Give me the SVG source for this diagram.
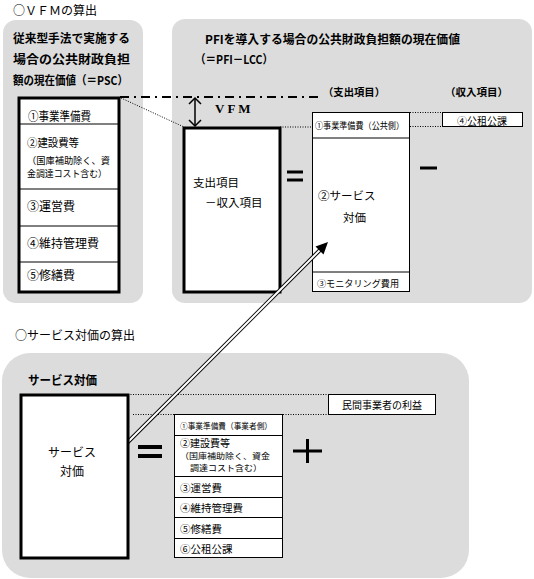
<svg xmlns="http://www.w3.org/2000/svg" width="534" height="579" viewBox="0 0 534 579">
<style>
text{font-family:"Noto Sans CJK JP","Noto Sans CJK SC",sans-serif;fill:#000;dominant-baseline:central}
.b{font-weight:bold}
.panel{fill:#dcdcdc}
.thick{fill:#fff;stroke:#000;stroke-width:3}
.thin{fill:#fff;stroke:#000;stroke-width:1}
.div{stroke:#000;stroke-width:1}
.dot{stroke:#000;stroke-width:1;stroke-dasharray:1 1.5;fill:none}
.bar{stroke:#000;fill:none}
</style>
<rect width="534" height="579" fill="#fff"/>
<g id="panels">
<rect class="panel" x="3" y="20" width="140" height="283" rx="13"/>
<rect class="panel" x="172" y="19" width="360" height="284" rx="13"/>
<rect class="panel" x="2" y="353" width="467" height="225" rx="28"/>
</g>
<text x="13" y="9" font-size="12">○ＶＦＭの算出</text>
<text x="15" y="334" font-size="12">○サービス対価の算出</text>
<g id="psc-title">
<text class="b" x="13" y="37" font-size="12" textLength="117" lengthAdjust="spacingAndGlyphs">従来型手法で実施する</text>
<text class="b" x="13" y="58" font-size="12" textLength="117" lengthAdjust="spacingAndGlyphs">場合の公共財政負担</text>
<text class="b" x="13" y="79" font-size="12" textLength="115" lengthAdjust="spacingAndGlyphs">額の現在価値（＝PSC）</text>
</g>
<g id="psc-box">
<rect class="thick" x="19" y="98" width="100" height="194"/>
<line class="div" x1="19" y1="124" x2="119" y2="124"/>
<line class="div" x1="19" y1="189" x2="119" y2="189"/>
<line class="div" x1="19" y1="226" x2="119" y2="226"/>
<line class="div" x1="19" y1="262" x2="119" y2="262"/>
<text x="28" y="115" font-size="12" textLength="63" lengthAdjust="spacingAndGlyphs">①事業準備費</text>
<text x="27" y="142" font-size="11" textLength="52" lengthAdjust="spacingAndGlyphs">②建設費等</text>
<text x="27" y="159.5" font-size="9.5" textLength="83" lengthAdjust="spacingAndGlyphs">（国庫補助除く、資</text>
<text x="27" y="173" font-size="9.5" textLength="80" lengthAdjust="spacingAndGlyphs">金調達コスト含む）</text>
<text x="27" y="205" font-size="12">③運営費</text>
<text x="27" y="242" font-size="12">④維持管理費</text>
<text x="27" y="274" font-size="12">⑤修繕費</text>
</g>
<g id="pfi-title">
<text class="b" x="205" y="38" font-size="12" textLength="255" lengthAdjust="spacingAndGlyphs">PFIを導入する場合の公共財政負担額の現在価値</text>
<text class="b" x="195" y="58" font-size="12" textLength="78" lengthAdjust="spacingAndGlyphs">（＝PFI－LCC）</text>
<text class="b" x="323" y="91" font-size="10.5" textLength="62" lengthAdjust="spacingAndGlyphs">（支出項目）</text>
<text class="b" x="445" y="91" font-size="10.5" textLength="63" lengthAdjust="spacingAndGlyphs">（収入項目）</text>
</g>
<g id="vfm-label">
<text x="215" y="108" font-size="13" class="b" style="font-family:'Liberation Serif',serif" letter-spacing="3">VFM</text>
</g>
<g id="pfi-lcc-box">
<rect class="thick" x="184" y="128" width="96" height="164"/>
<text x="193" y="182" font-size="11.5">支出項目</text>
<text x="205" y="202" font-size="11.5">－収入項目</text>
</g>
<g id="equals1"><line class="bar" stroke-width="3" x1="287" y1="172" x2="303" y2="172"/><line class="bar" stroke-width="3" x1="287" y1="180" x2="303" y2="180"/></g>
<g id="spend-col">
<rect class="thin" x="312.5" y="112.5" width="97" height="179"/>
<line class="div" x1="312" y1="138" x2="410" y2="138"/>
<line class="div" x1="312" y1="272" x2="410" y2="272"/>
<text x="315" y="125" font-size="9" textLength="89" lengthAdjust="spacingAndGlyphs">①事業準備費（公共側）</text>
<text x="318" y="195" font-size="11.5">②サービス</text>
<text x="343" y="217" font-size="11.5">対価</text>
<text x="317" y="283" font-size="9" textLength="82" lengthAdjust="spacingAndGlyphs">③モニタリング費用</text>
</g>
<g id="minus"><line class="bar" stroke-width="3" x1="420" y1="168" x2="437" y2="168"/></g>
<g id="revenue-box">
<rect class="thin" x="442.5" y="112.5" width="80" height="14"/>
<text x="457" y="120" font-size="10" textLength="50" lengthAdjust="spacingAndGlyphs">④公租公課</text>
</g>
<g id="service-title"><text class="b" x="28" y="379" font-size="12" textLength="69" lengthAdjust="spacingAndGlyphs">サービス対価</text></g>
<g id="connectors">
<line x1="120" y1="97" x2="322" y2="97" stroke="#000" stroke-width="2" stroke-dasharray="9 5 2 5"/>
<line class="dot" x1="121" y1="98" x2="184" y2="127"/>
<line class="dot" x1="280" y1="127" x2="312" y2="127"/>
<line class="dot" x1="410" y1="112.5" x2="442" y2="112.5"/>
<line class="dot" x1="410" y1="126.5" x2="442" y2="126.5"/>
<line class="dot" x1="128" y1="394.5" x2="328" y2="394.5"/>
<line class="dot" x1="133" y1="414.5" x2="328" y2="414.5"/>
<g fill="none" stroke="#000" stroke-width="1.5">
<line x1="195" y1="98" x2="195" y2="126"/>
<polyline points="189,104 195,98 201,104"/>
<polyline points="189,120 195,126 201,120"/>
</g>
<line x1="122" y1="448" x2="321" y2="249" stroke="#000" stroke-width="4"/>
<line x1="121" y1="449" x2="322" y2="248" stroke="#fff" stroke-width="2"/>
<polygon points="328,242 323.5,254.5 315.5,246.5" fill="#000"/>
<polygon points="115,455 127.5,450.5 119.5,442.5" fill="#000"/>
</g>
<g id="service-box">
<rect class="thick" x="21" y="395" width="107" height="163"/>
<text x="72" y="451" font-size="12" text-anchor="middle">サービス</text>
<text x="72" y="470" font-size="12" text-anchor="middle">対価</text>
</g>
<g id="equals2"><line class="bar" stroke-width="4" x1="138" y1="447" x2="162" y2="447"/><line class="bar" stroke-width="4" x1="138" y1="456" x2="162" y2="456"/></g>
<g id="profit-box">
<rect class="thin" x="328.5" y="394.5" width="107" height="20"/>
<text x="342" y="404" font-size="10" textLength="80" lengthAdjust="spacingAndGlyphs">民間事業者の利益</text>
</g>
<g id="cost-list">
<rect class="thin" x="174.5" y="414.5" width="108" height="143"/>
<line class="div" x1="174" y1="435.5" x2="283" y2="435.5"/>
<line class="div" x1="174" y1="476.5" x2="283" y2="476.5"/>
<line class="div" x1="174" y1="497.5" x2="283" y2="497.5"/>
<line class="div" x1="174" y1="517.5" x2="283" y2="517.5"/>
<line class="div" x1="174" y1="538.5" x2="283" y2="538.5"/>
<text x="180" y="425" font-size="8.5" textLength="92" lengthAdjust="spacingAndGlyphs">①事業準備費（事業者側）</text>
<text x="180" y="442" font-size="10">②建設費等</text>
<text x="180" y="454.5" font-size="8.5" textLength="90" lengthAdjust="spacingAndGlyphs">（国庫補助除く、資金</text>
<text x="190" y="467" font-size="8.5" textLength="72" lengthAdjust="spacingAndGlyphs">調達コスト含む）</text>
<text x="180" y="487" font-size="10.5">③運営費</text>
<text x="180" y="507" font-size="10.5">④維持管理費</text>
<text x="180" y="528" font-size="10.5">⑤修繕費</text>
<text x="180" y="548" font-size="10.5">⑥公租公課</text>
</g>
<g id="plus"><line class="bar" stroke-width="3" x1="293" y1="451" x2="322" y2="451"/><line class="bar" stroke-width="3" x1="307.5" y1="439" x2="307.5" y2="463"/></g>
</svg>
